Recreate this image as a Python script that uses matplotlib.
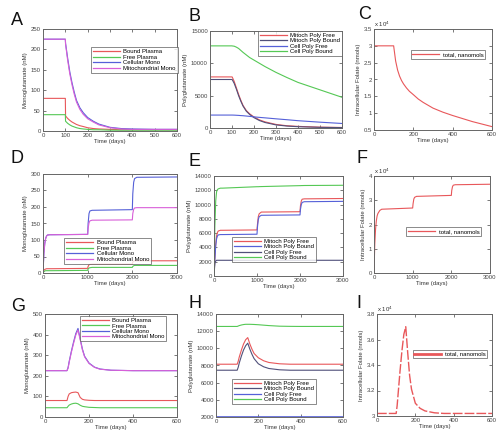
import matplotlib
matplotlib.use("Agg")
import matplotlib.pyplot as plt

plt.rcParams['font.family'] = ['Liberation Sans', 'DejaVu Sans']

# ---------------- data ----------------
# Panel A / B / C (time grid, days)
t_abc = [0, 100, 101, 110, 120, 130, 140, 150, 165, 180, 200, 225, 250, 300, 350, 400, 500, 600]
a_bound_plasma = [80, 80, 37, 31, 26, 22, 19, 16, 13, 11, 8, 6, 5, 4, 3, 3, 3, 3]
a_free_plasma = [40, 40, 24, 19, 15, 12, 10, 8, 6, 5, 4, 3, 3, 2, 2, 2, 2, 2]
a_cellular_mono = [225, 225, 215, 180, 145, 118, 95, 75, 57, 45, 33, 24, 17, 9, 6, 5, 4, 4]
a_mito_mono = [225, 225, 213, 175, 140, 113, 90, 71, 53, 41, 30, 22, 15, 8, 5, 4, 4, 4]

b_mito_poly_free = [7900, 7900, 7880, 7200, 6200, 5200, 4300, 3500, 2700, 2200, 1700, 1250, 950, 550, 350, 250, 130, 80]
b_mito_poly_bound = [7500, 7500, 7480, 6900, 6000, 5000, 4150, 3400, 2600, 2100, 1600, 1150, 850, 480, 300, 200, 100, 60]
b_cell_poly_free = [2000, 2000, 2000, 1990, 1970, 1950, 1920, 1900, 1850, 1800, 1720, 1640, 1570, 1420, 1280, 1130, 900, 700]
b_cell_poly_bound = [12700, 12700, 12690, 12650, 12500, 12300, 12000, 11700, 11300, 10900, 10500, 10000, 9500, 8600, 7800, 7050, 5900, 4750]

c_total = [3.0, 3.0, 2.95, 2.55, 2.28, 2.1, 1.97, 1.87, 1.75, 1.65, 1.55, 1.42, 1.32, 1.15, 1.03, 0.93, 0.75, 0.6]

# Panel D / E / F
t_def = [0, 20, 40, 60, 80, 100, 150, 200, 1000, 1010, 1030, 1050, 1100, 2000, 2010, 2030, 2050, 2100, 3000]
d_bound_plasma = [0, 8, 11, 12, 13, 13, 13, 13, 14, 20, 25, 26, 27, 27, 33, 36, 37, 37, 37]
d_free_plasma = [0, 4, 6, 7, 7, 7, 7, 7, 8, 12, 15, 16, 17, 17, 20, 22, 23, 23, 23]
d_cellular_mono = [0, 60, 90, 105, 112, 115, 116, 116, 117, 150, 180, 188, 190, 192, 240, 275, 286, 290, 291]
d_mito_mono = [0, 60, 90, 105, 112, 115, 116, 116, 117, 135, 152, 158, 160, 161, 180, 193, 197, 198, 198]

e_mito_poly_free = [0, 2500, 4500, 5600, 6100, 6300, 6400, 6400, 6450, 7200, 8300, 8700, 8950, 9000, 9800, 10500, 10750, 10800, 10850]
e_mito_poly_bound = [0, 2300, 4200, 5200, 5600, 5750, 5800, 5800, 5850, 6800, 7900, 8300, 8500, 8550, 9300, 10000, 10300, 10400, 10450]
e_cell_poly_free = [0, 1800, 2100, 2200, 2200, 2200, 2200, 2200, 2200, 2200, 2200, 2200, 2200, 2200, 2200, 2200, 2200, 2200, 2200]
e_cell_poly_bound = [0, 7000, 10500, 11800, 12100, 12200, 12300, 12300, 12500, 12500, 12500, 12510, 12520, 12650, 12650, 12660, 12660, 12670, 12700]

f_total = [0, 1.2, 1.8, 2.15, 2.35, 2.45, 2.58, 2.63, 2.68, 2.85, 3.05, 3.12, 3.16, 3.2, 3.4, 3.56, 3.62, 3.64, 3.66]

# Panel G / H / I
t_ghi = [0, 100, 105, 110, 120, 130, 140, 150, 160, 170, 180, 200, 225, 250, 300, 350, 400, 600]
g_bound_plasma = [80, 80, 100, 112, 118, 120, 121, 118, 95, 86, 83, 81, 80, 80, 80, 80, 80, 80]
g_free_plasma = [45, 45, 52, 58, 63, 66, 67, 64, 57, 52, 50, 47, 46, 45, 45, 45, 45, 45]
g_cellular_mono = [225, 225, 240, 270, 320, 365, 405, 430, 380, 330, 295, 262, 242, 233, 227, 226, 225, 225]
g_mito_mono = [225, 225, 238, 266, 315, 358, 398, 422, 375, 326, 292, 260, 241, 232, 227, 226, 225, 225]

h_mito_poly_free = [8150, 8150, 8500, 9000, 9800, 10500, 11000, 11250, 10500, 9900, 9400, 8900, 8550, 8350, 8200, 8150, 8150, 8150]
h_mito_poly_bound = [7450, 7450, 7800, 8300, 9100, 9800, 10300, 10600, 9900, 9300, 8800, 8200, 7850, 7650, 7500, 7450, 7450, 7450]
h_cell_poly_free = [2040, 2040, 2040, 2040, 2040, 2040, 2040, 2040, 2040, 2040, 2040, 2040, 2040, 2040, 2040, 2040, 2040, 2040]
h_cell_poly_bound = [12550, 12550, 12600, 12650, 12720, 12770, 12800, 12800, 12800, 12790, 12780, 12750, 12700, 12650, 12580, 12560, 12550, 12550]

i_total = [3.02, 3.02, 3.08, 3.17, 3.35, 3.51, 3.64, 3.70, 3.50, 3.32, 3.21, 3.10, 3.06, 3.04, 3.025, 3.02, 3.02, 3.02]

mono_labels = ["Bound Plasma", "Free Plasma", "Cellular Mono", "Mitochondrial Mono"]
poly_labels = ["Mitoch Poly Free", "Mitoch Poly Bound", "Cell Poly Free", "Cell Poly Bound"]
total_label = "total, nanomols"
xlab = "Time (days)"
ylab_mono = "Monoglutamate (nM)"
ylab_poly = "Polyglutamate (nM)"
ylab_tot = "Intracellular Folate (nmols)"

RED = '#e8575a'
GREEN = '#55c855'
BLUE = '#5560d8'
DARK = '#50507a'
MAG = '#d860d8'

W, H = 499, 436
fig = plt.figure(figsize=(W / 100, H / 100), dpi=100)


def box(l, t, r, b):
    return [l / W, 1 - b / H, (r - l) / W, (b - t) / H]


FS = 4.3


def style(ax, xlim, ylim, xt, yt, ylabel, ytl=None):
    ax.set_xlim(*xlim)
    ax.set_ylim(*ylim)
    ax.set_xticks(xt)
    ax.set_yticks(yt)
    if ytl is not None:
        ax.set_yticklabels(ytl)
    ax.tick_params(direction='in', top=True, right=True, length=2, width=0.5,
                   labelsize=FS, pad=1.5, colors='#444444')
    for s in ax.spines.values():
        s.set_color('#666666')
        s.set_linewidth(0.7)
    ax.set_xlabel(xlab, fontsize=FS, labelpad=1, color='#333333')
    ax.set_ylabel(ylabel, fontsize=FS, labelpad=2, color='#333333')


def leg(ax, anchor, loc='upper left', lw=0.9):
    lg = ax.legend(loc=loc, bbox_to_anchor=anchor, fontsize=FS, frameon=True,
                   fancybox=False, edgecolor='#555555', handlelength=4.5,
                   borderpad=0.3, labelspacing=0.05, handletextpad=0.6,
                   borderaxespad=0)
    lg.get_frame().set_linewidth(0.6)
    for h in lg.get_lines():
        h.set_linewidth(lw)
    return lg


LW = 0.8

# A
ax = fig.add_axes(box(43, 29, 177, 131))
ax.plot(t_abc, a_bound_plasma, color=RED, lw=LW, label=mono_labels[0])
ax.plot(t_abc, a_free_plasma, color=GREEN, lw=LW, label=mono_labels[1])
ax.plot(t_abc, a_cellular_mono, color=BLUE, lw=LW, label=mono_labels[2])
ax.plot(t_abc, a_mito_mono, color=MAG, lw=LW, label=mono_labels[3])
style(ax, (0, 600), (0, 250), range(0, 601, 100), range(0, 251, 50), ylab_mono)
leg(ax, (0.36, 0.82))

# B
ax = fig.add_axes(box(210, 31, 342, 128))
ax.plot(t_abc, b_mito_poly_free, color=RED, lw=LW, label=poly_labels[0])
ax.plot(t_abc, b_mito_poly_bound, color=DARK, lw=LW, label=poly_labels[1])
ax.plot(t_abc, b_cell_poly_free, color=BLUE, lw=LW, label=poly_labels[2])
ax.plot(t_abc, b_cell_poly_bound, color=GREEN, lw=LW, label=poly_labels[3])
style(ax, (0, 600), (0, 15000), range(0, 601, 100), range(0, 15001, 5000), ylab_poly)
leg(ax, (1.0, 1.0), loc='upper right')

# C
ax = fig.add_axes(box(374, 29, 492, 130))
ax.plot(t_abc, c_total, color=RED, lw=LW, label=total_label)
style(ax, (0, 600), (0.5, 3.5), range(0, 601, 200), [0.5, 1, 1.5, 2, 2.5, 3, 3.5], ylab_tot,
      ['0.5', '1', '1.5', '2', '2.5', '3', '3.5'])
ax.text(0.0, 1.02, 'x 10$^4$', transform=ax.transAxes, fontsize=FS, color='#333333')
leg(ax, (0.31, 0.79))

# D
ax = fig.add_axes(box(43, 174, 177, 273))
ax.plot(t_def, d_bound_plasma, color=RED, lw=LW, label=mono_labels[0])
ax.plot(t_def, d_free_plasma, color=GREEN, lw=LW, label=mono_labels[1])
ax.plot(t_def, d_cellular_mono, color=BLUE, lw=LW, label=mono_labels[2])
ax.plot(t_def, d_mito_mono, color=MAG, lw=LW, label=mono_labels[3])
style(ax, (0, 3000), (0, 300), range(0, 3001, 1000), range(0, 301, 50), ylab_mono)
leg(ax, (0.16, 0.35))

# E
ax = fig.add_axes(box(214, 176, 343, 276))
ax.plot(t_def, e_mito_poly_free, color=RED, lw=LW, label=poly_labels[0])
ax.plot(t_def, e_mito_poly_bound, color=BLUE, lw=LW, label=poly_labels[1])
ax.plot(t_def, e_cell_poly_free, color=DARK, lw=LW, label=poly_labels[2])
ax.plot(t_def, e_cell_poly_bound, color=GREEN, lw=LW, label=poly_labels[3])
style(ax, (0, 3000), (0, 14000), range(0, 3001, 1000), range(0, 14001, 2000), ylab_poly)
leg(ax, (0.14, 0.39))

# F
ax = fig.add_axes(box(374, 176, 490, 273))
ax.plot(t_def, f_total, color=RED, lw=LW, label=total_label)
style(ax, (0, 3000), (0, 4), range(0, 3001, 1000), range(0, 5), ylab_tot)
ax.text(0.0, 1.02, 'x 10$^4$', transform=ax.transAxes, fontsize=FS, color='#333333')
leg(ax, (0.28, 0.47))

# G
ax = fig.add_axes(box(45, 314, 177, 417))
ax.plot(t_ghi, g_bound_plasma, color=RED, lw=LW, label=mono_labels[0])
ax.plot(t_ghi, g_free_plasma, color=GREEN, lw=LW, label=mono_labels[1])
ax.plot(t_ghi, g_cellular_mono, color=BLUE, lw=LW, label=mono_labels[2])
ax.plot(t_ghi, g_mito_mono, color=MAG, lw=LW, label=mono_labels[3])
style(ax, (0, 600), (0, 500), range(0, 601, 200), range(0, 501, 100), ylab_mono)
leg(ax, (0.265, 0.98))

# H
ax = fig.add_axes(box(216, 314, 343, 417))
ax.plot(t_ghi, h_mito_poly_free, color=RED, lw=LW, label=poly_labels[0])
ax.plot(t_ghi, h_mito_poly_bound, color=DARK, lw=LW, label=poly_labels[1])
ax.plot(t_ghi, h_cell_poly_free, color=BLUE, lw=1.2, label=poly_labels[2])
ax.plot(t_ghi, h_cell_poly_bound, color=GREEN, lw=LW, label=poly_labels[3])
style(ax, (0, 600), (2000, 14000), range(0, 601, 200), range(2000, 14001, 2000), ylab_poly)
leg(ax, (0.126, 0.37))

# I
ax = fig.add_axes(box(377, 314, 492, 416))
ax.plot(t_ghi, i_total, color=RED, lw=1.0, ls=(0, (7, 1.5)), label=total_label)
style(ax, (0, 600), (3.0, 3.8), range(0, 601, 200), [3.0, 3.2, 3.4, 3.6, 3.8], ylab_tot,
      ['3', '3.2', '3.4', '3.6', '3.8'])
ax.text(0.0, 1.02, 'x 10$^4$', transform=ax.transAxes, fontsize=FS, color='#333333')
lg = leg(ax, (0.31, 0.65), lw=2.0)
for h in lg.get_lines():
    h.set_linestyle('-')

# panel letters
letters = [('A', 11, 25), ('B', 189, 21), ('C', 358, 19), ('D', 11, 163), ('E', 189, 166),
           ('F', 357, 163), ('G', 11, 311), ('H', 189, 308), ('I', 356, 308)]
for s, x, y in letters:
    fig.text(x / W, 1 - y / H, s, fontsize=13, color='#111111', ha='left', va='baseline')

fig.savefig('out.png', dpi=100, facecolor='white')
